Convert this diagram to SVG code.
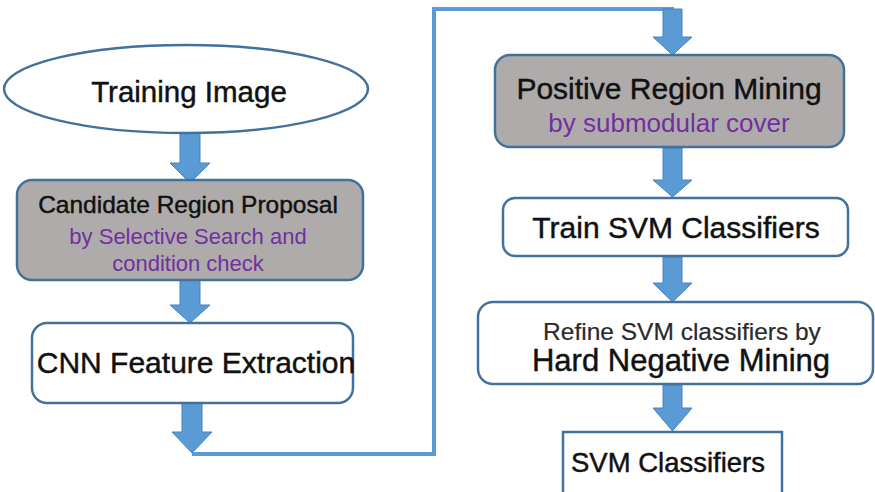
<svg xmlns="http://www.w3.org/2000/svg" width="875" height="492" viewBox="0 0 875 492">
<style>
.box{stroke:#41719c;stroke-width:2.5;fill:#ffffff}
.gray{fill:#afabab}
.arr{fill:#5b9bd5;stroke:#4a82bd;stroke-width:1}
.t{font-family:"Liberation Sans",Arial,sans-serif;fill:#111111;stroke:#111111;stroke-width:0.45;text-anchor:middle}
.p{font-family:"Liberation Sans",Arial,sans-serif;fill:#7030a0;text-anchor:middle}
.line{fill:none;stroke:#5b9bd5;stroke-width:4}
</style>
<rect width="875" height="492" fill="#ffffff"/>
<g id="connectors">
<polyline class="line" points="192,454 434,454 434,9 674,9"/>
<polygon class="arr" points="180,133 200,133 200,163 210,163 190,183 170,163 180,163"/>
<polygon class="arr" points="180,280 200,280 200,305 210,305 190,323 170,305 180,305"/>
<polygon class="arr" points="182,403 202,403 202,432 212,432 192,453 172,432 182,432"/>
<polygon class="arr" points="663,9 682,9 682,37 692,37 672.5,55 653,37 663,37"/>
<polygon class="arr" points="663,148 682,148 682,180 692,180 672.5,197 653,180 663,180"/>
<polygon class="arr" points="663,257 682,257 682,283 692,283 672.5,302 653,283 663,283"/>
<polygon class="arr" points="663,385 682,385 682,408 692,408 672.5,431 653,408 663,408"/>
</g>
<g id="training-image">
<ellipse class="box" cx="186" cy="89" rx="182" ry="44"/>
<text class="t" x="189" y="102" font-size="29.5">Training Image</text>
</g>
<g id="candidate-region-proposal">
<rect class="box gray" x="17" y="180" width="346" height="100" rx="15"/>
<text class="t" x="188" y="213" font-size="24.5">Candidate Region Proposal</text>
<text class="p" x="188" y="244" font-size="22">by Selective Search and</text>
<text class="p" x="188" y="271" font-size="22">condition check</text>
</g>
<g id="cnn-feature-extraction">
<rect class="box" x="32" y="323" width="321" height="80" rx="15"/>
<text class="t" x="196" y="373" font-size="30">CNN Feature Extraction</text>
</g>
<g id="positive-region-mining">
<rect class="box gray" x="495" y="55" width="349" height="92" rx="15"/>
<text class="t" x="669" y="99" font-size="30">Positive Region Mining</text>
<text class="p" x="669" y="132" font-size="26">by submodular cover</text>
</g>
<g id="train-svm-classifiers">
<rect class="box" x="503" y="198" width="345" height="58" rx="12"/>
<text class="t" x="676" y="238" font-size="30">Train SVM Classifiers</text>
</g>
<g id="refine-svm-classifiers">
<rect class="box" x="478" y="302" width="395" height="82" rx="15"/>
<text class="t" x="682" y="340" font-size="24.5" style="fill:#2a2a2a;stroke:#2a2a2a;stroke-width:0.2">Refine SVM classifiers by</text>
<text class="t" x="681" y="371" font-size="31">Hard Negative Mining</text>
</g>
<g id="svm-classifiers">
<rect class="box" x="563" y="432" width="219" height="75"/>
<text class="t" x="668" y="472" font-size="27.5">SVM Classifiers</text>
</g>
</svg>
